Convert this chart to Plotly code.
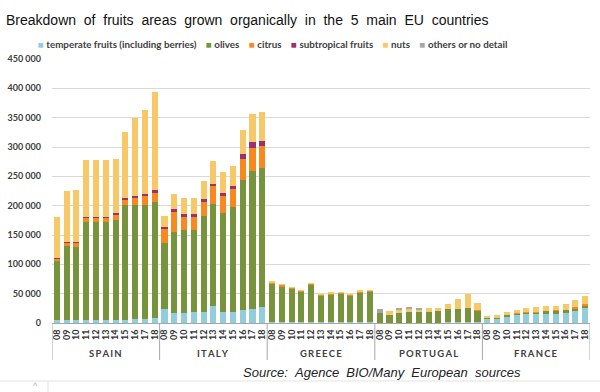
import plotly.graph_objects as go

countries = ["SPAIN", "ITALY", "GREECE", "PORTUGAL", "FRANCE"]
years = ["08", "09", "10", "11", "12", "13", "14", "15", "16", "17", "18"]

series_names = ["temperate fruits (including berries)", "olives", "citrus",
                "subtropical fruits", "nuts", "others or no detail"]
series_colors = ["#92CDDC", "#77933C", "#F7891F", "#993370", "#F7C868", "#A6A6A6"]

temperate = (
    [5000, 5000, 5000, 5000, 5000, 5000, 5000, 5000, 6000, 7000, 9000]
    + [24000, 17500, 17500, 18000, 18000, 28500, 18000, 18000, 23000, 24500, 27500]
    + [1500, 1000, 1000, 1000, 1000, 1000, 1000, 1000, 1000, 1000, 1000]
    + [500, 500, 500, 500, 500, 500, 500, 1000, 1000, 1000, 1000]
    + [7000, 7000, 10500, 12800, 14500, 14500, 16200, 16200, 17300, 21300, 25800]
)
olives = (
    [100000, 127000, 124500, 168000, 168000, 168000, 171000, 196500, 195500, 194500, 198000]
    + [113000, 138000, 140300, 141000, 164800, 174700, 169400, 179600, 221000, 234800, 237500]
    + [65500, 61600, 57100, 53100, 63900, 46300, 48000, 48600, 46300, 51400, 52600]
    + [16200, 13500, 16800, 18500, 18500, 19000, 20800, 23700, 23700, 24200, 19700]
    + [1000, 2000, 3500, 4000, 4000, 4000, 4500, 5000, 5000, 4000, 4500]
)
citrus = (
    [5000, 5000, 7000, 7000, 7000, 7000, 9500, 9500, 13000, 16000, 14300]
    + [24500, 33000, 22800, 21600, 23800, 29500, 29900, 31100, 35700, 39700, 36800]
    + [2500, 2500, 2500, 1500, 2000, 1500, 2000, 2500, 1500, 2000, 2000]
    + [0, 0, 0, 0, 0, 0, 0, 0, 0, 0, 1500]
    + [0, 0, 300, 500, 500, 500, 600, 600, 700, 1600, 2900]
)
subtropical = (
    [500, 1000, 1000, 1500, 1500, 1500, 2000, 2300, 2200, 2300, 5600]
    + [2700, 6000, 5100, 5100, 5600, 4500, 5100, 5600, 8500, 9600, 9100]
    + [0, 0, 0, 0, 0, 0, 0, 0, 0, 0, 0]
    + [0, 0, 0, 0, 0, 0, 0, 0, 0, 0, 0]
    + [0, 0, 0, 0, 0, 0, 0, 0, 0, 0, 0]
)
nuts = (
    [70500, 87000, 89500, 96500, 97000, 95500, 92500, 112700, 133300, 143800, 167100]
    + [17400, 25700, 27200, 27300, 30100, 39100, 34700, 33500, 40800, 47100, 49300]
    + [500, 500, 500, 500, 500, 500, 500, 500, 500, 500, 500]
    + [0, 6700, 6400, 4900, 4200, 5700, 4000, 8500, 16500, 24500, 12000]
    + [3500, 4300, 4400, 5700, 6200, 7900, 7300, 8000, 9600, 11900, 12400]
)
others = (
    [0] * 11
    + [0] * 11
    + [0] * 11
    + [7000, 0, 1000, 2500, 2000, 0, 0, 0, 0, 0, 0]
    + [0] * 11
)

series_values = [temperate, olives, citrus, subtropical, nuts, others]

n_years = len(years)
n_bars = len(countries) * n_years
xpos = list(range(n_bars))
ticktext = years * len(countries)

fig = go.Figure()
for name, color, vals in zip(series_names, series_colors, series_values):
    fig.add_trace(go.Bar(x=xpos, y=vals, name=name, marker=dict(color=color, line=dict(width=0)),
                         showlegend=False))

L, R, T, B = 52, 10, 59, 69
W, H = 600, 392
pw = W - L - R
ph = H - T - B

def px_to_paper_x(px):
    return (px - L) / pw

def px_to_paper_y(py):
    return (H - B - py) / ph

shapes = []
# group dividers
for g in range(len(countries) + 1):
    xb = g * n_years - 0.5
    shapes.append(dict(type="line", xref="x", yref="paper", x0=xb, x1=xb,
                       y0=0, y1=px_to_paper_y(360), line=dict(color="#a6a6a6", width=1)))
# bottom frame artifacts
shapes.append(dict(type="line", xref="paper", yref="paper", x0=px_to_paper_x(0), x1=px_to_paper_x(600),
                   y0=px_to_paper_y(381), y1=px_to_paper_y(381), line=dict(color="#e3e3e3", width=1)))
shapes.append(dict(type="line", xref="paper", yref="paper", x0=px_to_paper_x(48), x1=px_to_paper_x(48),
                   y0=px_to_paper_y(381), y1=px_to_paper_y(392), line=dict(color="#e3e3e3", width=1)))

annotations = []
for g, c in enumerate(countries):
    annotations.append(dict(xref="x", yref="paper", x=g * n_years + (n_years - 1) / 2,
                            y=px_to_paper_y(353), text="\u2009".join(c), showarrow=False,
                            xanchor="center", yanchor="middle",
                            font=dict(family="Lato", size=9.5, color="#404040", weight="bold")))

# legend row
parts = []
for name, color in zip(series_names, series_colors):
    parts.append(f"<span style='color:{color}'>\u25a0</span>\u00a0{name}")
legend_text = ("\u00a0" * 4).join(parts)
annotations.append(dict(xref="paper", yref="paper", x=px_to_paper_x(272), y=px_to_paper_y(44),
                        text=legend_text, showarrow=False, xanchor="center", yanchor="middle",
                        font=dict(family="Lato", size=9.8, color="#404040", weight="bold")))

annotations.append(dict(xref="paper", yref="paper", x=px_to_paper_x(382), y=px_to_paper_y(372),
                        text="Source:\u00a0\u00a0Agence\u00a0\u00a0BIO/Many\u00a0\u00a0European\u00a0\u00a0sources",
                        showarrow=False, xanchor="center", yanchor="middle",
                        font=dict(family="Liberation Sans", size=13, color="#222222", style="italic")))
annotations.append(dict(xref="paper", yref="paper", x=px_to_paper_x(35), y=px_to_paper_y(386),
                        text="^", showarrow=False, xanchor="center", yanchor="middle",
                        font=dict(family="Liberation Sans", size=9, color="#b0b0b0")))

title_text = "\u00a0\u00a0".join("Breakdown of fruits areas grown organically in the 5 main EU countries".split(" "))

fig.update_layout(
    width=W, height=H,
    margin=dict(l=L, r=R, t=T, b=B, autoexpand=False),
    paper_bgcolor="white", plot_bgcolor="white",
    barmode="stack", bargap=0.38,
    separators=". ",
    title=dict(text=title_text, x=6 / W, xanchor="left", xref="container",
               y=1 - 20 / H, yanchor="middle", yref="container",
               font=dict(family="Liberation Sans", size=14, color="#111111")),
    xaxis=dict(range=[-0.5, n_bars - 0.5], tickmode="array", tickvals=xpos, ticktext=ticktext,
               tickangle=-90, showgrid=False, showline=True, linecolor="#a6a6a6", linewidth=1,
               ticks="", ticklabelstandoff=2,
               tickfont=dict(family="Lato", size=9, color="#333333", weight="bold"), zeroline=False),
    yaxis=dict(range=[0, 450000], dtick=50000, tickformat=",d", showgrid=True, gridcolor="#d9d9d9",
               gridwidth=1, zeroline=False, showline=False, ticks="", ticklabelstandoff=10,
               tickfont=dict(family="Lato", size=9, color="#404040", weight="bold")),
    shapes=shapes,
    annotations=annotations,
    showlegend=False,
)

fig.write_html("out.html", config={"displayModeBar": False},
               post_script="document.body.style.margin='0';document.body.style.padding='0';")
